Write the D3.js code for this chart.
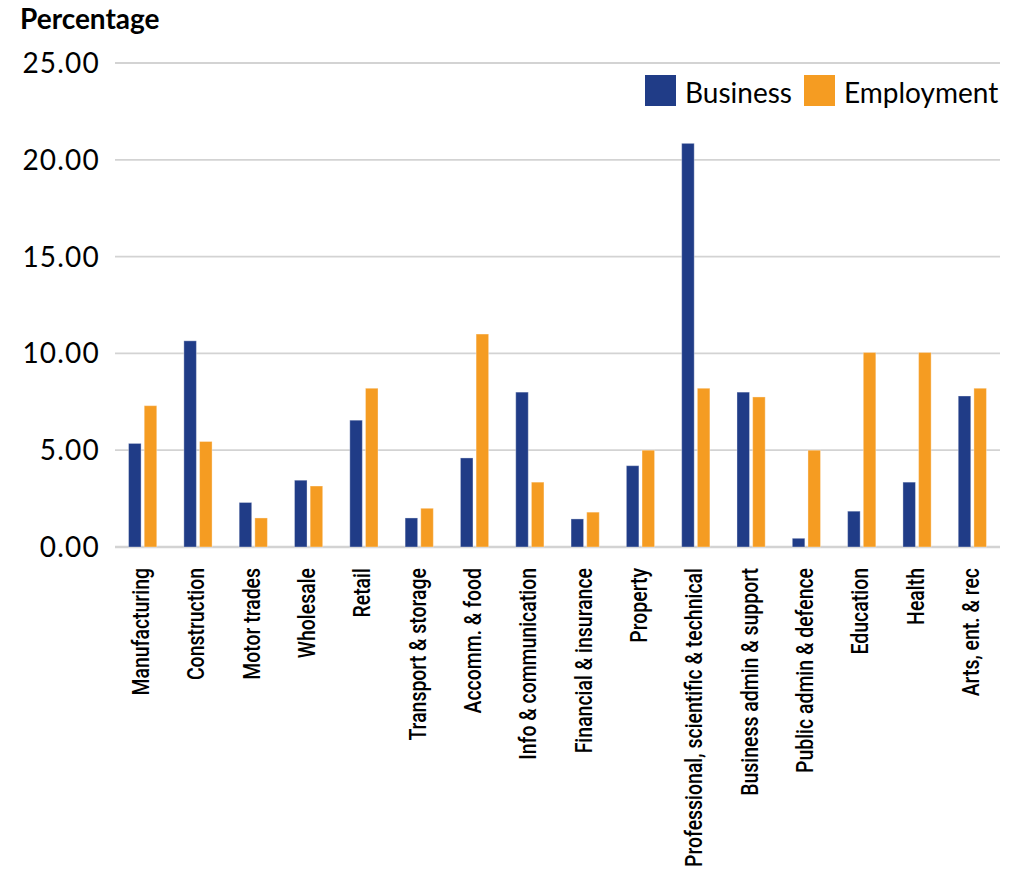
<!DOCTYPE html>
<html>
<head>
<meta charset="utf-8">
<script src="https://cdn.jsdelivr.net/npm/d3@7"></script>
<style>
  body { margin: 0; background: #fff; }
  svg text { fill: #000; }
  .tick-label { font-family: Lato, "Open Sans", sans-serif; font-size: 28px; font-weight: 400; letter-spacing: 1.2px; }
  .x-label { font-family: Roboto, "Noto Sans", sans-serif; font-size: 24px; font-weight: 500; }
  .legend-label { font-family: Lato, "Open Sans", sans-serif; font-size: 28px; font-weight: 400; }
</style>
</head>
<body>
<div id="chart"></div>
<script>
// Data
const categories = ['Manufacturing', 'Construction', 'Motor trades', 'Wholesale', 'Retail',
  'Transport & storage', 'Accomm. & food', 'Info & communication', 'Financial & insurance',
  'Property', 'Professional, scientific & technical', 'Business admin & support',
  'Public admin & defence', 'Education', 'Health', 'Arts, ent. & rec'];
const business = [5.35, 10.65, 2.3, 3.45, 6.55, 1.5, 4.6, 8.0, 1.45, 4.2, 20.85, 8.0, 0.45, 1.85, 3.35, 7.8];
const employment = [7.3, 5.45, 1.5, 3.15, 8.2, 2.0, 11.0, 3.35, 1.8, 5.0, 8.2, 7.75, 5.0, 10.05, 10.05, 8.2];
const seriesNames = ['Business', 'Employment'];
const yTicks = [0, 5, 10, 15, 20, 25];

const config = {
  width: 1020,
  height: 869,
  margin: { top: 63, right: 20, bottom: 322, left: 115 },
  colours: ['#203c87', '#f59c22'],
  labelScale: 0.81
};

const innerW = config.width - config.margin.left - config.margin.right;
const innerH = config.height - config.margin.top - config.margin.bottom;

const svg = d3.select('#chart').append('svg')
  .attr('width', config.width)
  .attr('height', config.height);

const chart = svg.append('g')
  .attr('transform', `translate(${config.margin.left}, ${config.margin.top})`);

const x = d3.scaleBand()
  .domain(categories)
  .range([0, innerW])
  .paddingInner(0.49)
  .paddingOuter(0.245);

const xSub = d3.scaleBand()
  .domain(seriesNames)
  .range([0, x.bandwidth()])
  .paddingInner(0.2);

const y = d3.scaleLinear()
  .domain([0, 25])
  .range([innerH, 0]);

const colour = d3.scaleOrdinal().domain(seriesNames).range(config.colours);

// Gridlines
chart.append('g')
  .selectAll('line')
  .data(yTicks)
  .join('line')
    .attr('x1', 0)
    .attr('x2', innerW)
    .attr('y1', d => y(d))
    .attr('y2', d => y(d))
    .attr('stroke', '#d3d3d3')
    .attr('stroke-width', d => d === 0 ? 2.5 : 1.8);

// Y labels
svg.append('g')
  .selectAll('text')
  .data(yTicks)
  .join('text')
    .attr('class', 'tick-label')
    .attr('x', 100)
    .attr('y', d => config.margin.top + y(d))
    .attr('dy', '0.36em')
    .attr('text-anchor', 'end')
    .text(d3.format('.2f'));

// Bars
const rows = categories.map((c, i) => ({ cat: c, values: [business[i], employment[i]] }));

const groups = chart.append('g')
  .selectAll('g')
  .data(rows)
  .join('g')
    .attr('transform', d => `translate(${x(d.cat)}, 0)`);

groups.selectAll('rect')
  .data(d => d.values.map((v, j) => ({ key: seriesNames[j], value: v })))
  .join('rect')
    .attr('x', d => xSub(d.key))
    .attr('width', xSub.bandwidth())
    .attr('y', d => y(d.value))
    .attr('height', d => y(0) - y(d.value))
    .attr('fill', d => colour(d.key))
    .attr('stroke', 'rgba(255,255,255,0.35)')
    .attr('stroke-width', 1);

// X labels (rotated)
chart.append('g')
  .selectAll('text')
  .data(categories)
  .join('text')
    .attr('class', 'x-label')
    .attr('text-anchor', 'end')
    .attr('dy', '0.27em')
    .attr('transform', d => `translate(${x(d) + x.bandwidth() / 2}, ${innerH + 21}) rotate(-90) scale(${config.labelScale}, 1)`)
    .text(d => d);

// Title
svg.append('text')
  .attr('x', 20)
  .attr('y', 29)
  .style('font-family', 'Lato, "Open Sans", sans-serif')
  .style('font-size', '28px')
  .style('font-weight', 700)
  .text('Percentage');

// Legend
const legendX = [645, 804];
const item = svg.append('g')
  .selectAll('g')
  .data(seriesNames)
  .join('g')
    .attr('transform', (d, i) => `translate(${legendX[i]}, 75)`);

item.append('rect')
  .attr('width', 31)
  .attr('height', 31)
  .attr('fill', d => colour(d));

item.append('text')
  .attr('class', 'legend-label')
  .attr('x', 40)
  .attr('y', 28)
  .text(d => d);
</script>
</body>
</html>
